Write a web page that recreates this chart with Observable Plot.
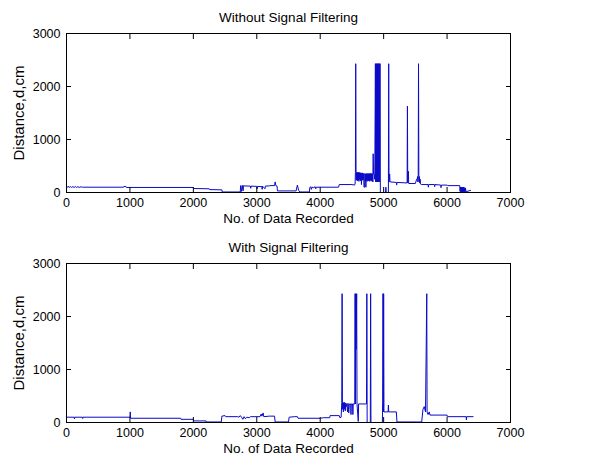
<!DOCTYPE html>
<html>
<head>
<meta charset="utf-8">
<script src="https://cdn.jsdelivr.net/npm/d3@7"></script>
<script src="https://cdn.jsdelivr.net/npm/@observablehq/plot@0.6"></script>
<style>
  body { margin: 0; background: white; }
  #wrap { position: relative; width: 590px; height: 465px; background: white; }
  #wrap svg { display: block; }
</style>
</head>
<body>
<div id="wrap"></div>
<script>
const titles = ["Without Signal Filtering", "With Signal Filtering"];
const xLabel = "No. of Data Recorded";
const yLabel = "Distance,d,cm";
const xTicks = [0, 1000, 2000, 3000, 4000, 5000, 6000, 7000];
const yTicks = [0, 1000, 2000, 3000];

// Without filtering: sample index and distance (cm)
const topIdx = [0,40,45,60,80,100,120,140,160,180,200,230,250,900,905,940,945,2000,2005,2250,2255,2450,2455,2740,2745,2760,2770,2785,2790,2800,2900,2905,2910,3000,3005,3010,3080,3085,3090,3130,3135,3200,3205,3280,3290,3300,3320,3325,3620,3640,3660,3680,3830,3835,3850,3860,3870,3900,3920,3930,3940,4290,4300,4500,4540,4550,4555,4560,4565,4570,4575,4580,4585,4590,4595,4600,4605,4610,4615,4620,4625,4630,4635,4640,4645,4650,4655,4660,4665,4670,4675,4680,4685,4690,4700,4705,4710,4715,4720,4725,4730,4735,4740,4745,4750,4755,4760,4765,4770,4775,4780,4785,4790,4795,4800,4805,4810,4815,4820,4825,4830,4835,4840,4850,4860,4870,4875,4880,4885,4890,4895,4900,4905,4910,4915,4920,4925,4930,4935,4940,4945,4948,5030,5035,5040,5075,5080,5085,5095,5100,5200,5205,5210,5370,5375,5380,5390,5395,5500,5520,5530,5535,5540,5545,5550,5555,5560,5565,5570,5575,5580,5600,5700,5705,5710,5800,5805,5810,5900,5905,5910,6000,6010,6200,6205,6210,6215,6220,6225,6230,6235,6240,6245,6250,6255,6260,6265,6270,6275,6280,6285,6290,6300,6370];
const topDist = [100,110,95,112,96,110,95,112,96,110,95,108,100,100,115,110,95,95,75,70,55,50,10,10,130,20,135,30,130,125,120,80,120,115,70,115,110,60,120,70,120,125,130,130,200,130,120,30,30,140,40,10,10,90,110,60,100,90,110,70,100,100,150,150,140,160,380,2430,380,230,380,250,380,220,370,240,380,210,370,250,380,230,360,220,370,150,360,240,370,230,350,250,360,100,100,360,220,350,100,350,230,360,210,350,240,360,220,350,230,360,210,350,240,360,220,350,230,360,210,350,200,730,350,350,250,2430,200,2430,200,2430,200,2430,200,2430,200,2430,200,2430,200,2430,2430,0,0,100,0,0,2430,200,350,200,190,140,190,180,1630,180,400,170,170,250,250,300,200,310,2430,300,200,300,180,250,160,150,150,100,150,150,110,150,140,90,140,140,130,130,20,100,15,100,10,100,20,100,10,100,15,100,10,90,20,90,10,80,15,40,10,10];

// With filtering: sample index and distance (cm)
const botIdx = [0,120,125,130,250,255,260,1000,1005,1010,1800,1805,2000,2005,2200,2205,2440,2450,2500,2510,2700,2720,2740,2760,2780,2800,2820,2840,2880,2900,3050,3070,3080,3100,3110,3200,3280,3290,3500,3510,3600,3640,3650,4000,4050,4150,4155,4300,4310,4330,4340,4345,4350,4355,4360,4365,4370,4375,4380,4385,4390,4395,4400,4410,4420,4430,4440,4450,4460,4480,4485,4490,4510,4515,4520,4545,4550,4555,4560,4565,4575,4580,4600,4605,4730,4735,4740,4790,4795,4800,4980,4985,4990,4995,5000,5005,5070,5075,5080,5200,5210,5600,5620,5640,5660,5680,5685,5700,5720,5730,6000,6005,6300,6305,6310,6410];
const botDist = [100,100,70,100,100,75,100,100,200,80,80,60,60,30,30,10,10,120,130,110,110,100,130,100,60,110,70,100,90,110,110,160,120,180,110,120,120,10,10,100,110,110,80,80,90,90,130,130,90,100,380,2430,380,250,380,200,370,300,380,250,370,220,360,300,360,200,360,180,350,350,150,350,350,150,350,350,2430,350,2430,1380,2430,350,20,350,350,2430,0,0,2430,0,0,400,2430,200,2430,200,200,330,200,200,10,10,250,300,200,2430,200,150,200,140,140,110,110,50,110,110];

const seriesIdx = [topIdx, botIdx];
const seriesDist = [topDist, botDist];

const font = "'Liberation Sans', Arial, Helvetica, sans-serif";

function panel(k) {
  const data = seriesIdx[k].map((x, i) => ({idx: x, dist: seriesDist[k][i]}));
  return Plot.plot({
    width: 590, height: 232,
    marginLeft: 66, marginRight: 80, marginTop: 33, marginBottom: 40,
    style: {fontFamily: font, fontSize: "12px", background: "white", color: "black", overflow: "visible"},
    x: {domain: [0, 7000], label: null},
    y: {domain: [0, 3000], label: null},
    marks: [
      Plot.line(data, {x: "idx", y: "dist", stroke: "#0a0ac8", strokeWidth: 1}),
      Plot.frame({stroke: "black"}),
      Plot.axisX(xTicks, {anchor: "bottom", tickSize: 0, tickPadding: 6, tickFormat: d => String(d), label: null, fill: "black", fontSize: 12.5}),
      Plot.axisX(xTicks, {anchor: "bottom", tickSize: -5, text: null, label: null, stroke: "black"}),
      Plot.axisX(xTicks, {anchor: "top", tickSize: -5, text: null, label: null, stroke: "black"}),
      Plot.axisY(yTicks, {anchor: "left", tickSize: 0, tickPadding: 6, tickFormat: d => String(d), label: null, fill: "black", fontSize: 12.5}),
      Plot.axisY(yTicks, {anchor: "left", tickSize: -5, text: null, label: null, stroke: "black"}),
      Plot.axisY(yTicks, {anchor: "right", tickSize: -5, text: null, label: null, stroke: "black"}),
      Plot.text([titles[k]], {frameAnchor: "top", lineAnchor: "middle", textAnchor: "middle", dy: -16, fill: "black", fontSize: 13.5}),
      Plot.text([xLabel], {frameAnchor: "bottom", lineAnchor: "middle", textAnchor: "middle", dy: 26, fill: "black", fontSize: 13.5}),
      Plot.text([yLabel], {frameAnchor: "left", lineAnchor: "middle", textAnchor: "middle", dx: -47, rotate: -90, fill: "black", fontSize: 15})
    ]
  });
}

const wrap = document.getElementById("wrap");
const p1 = panel(0);
const p2 = panel(1);
p1.style.position = "absolute"; p1.style.left = "0px"; p1.style.top = "0px";
p2.style.position = "absolute"; p2.style.left = "0px"; p2.style.top = "230px";
wrap.appendChild(p1);
wrap.appendChild(p2);
</script>
</body>
</html>
